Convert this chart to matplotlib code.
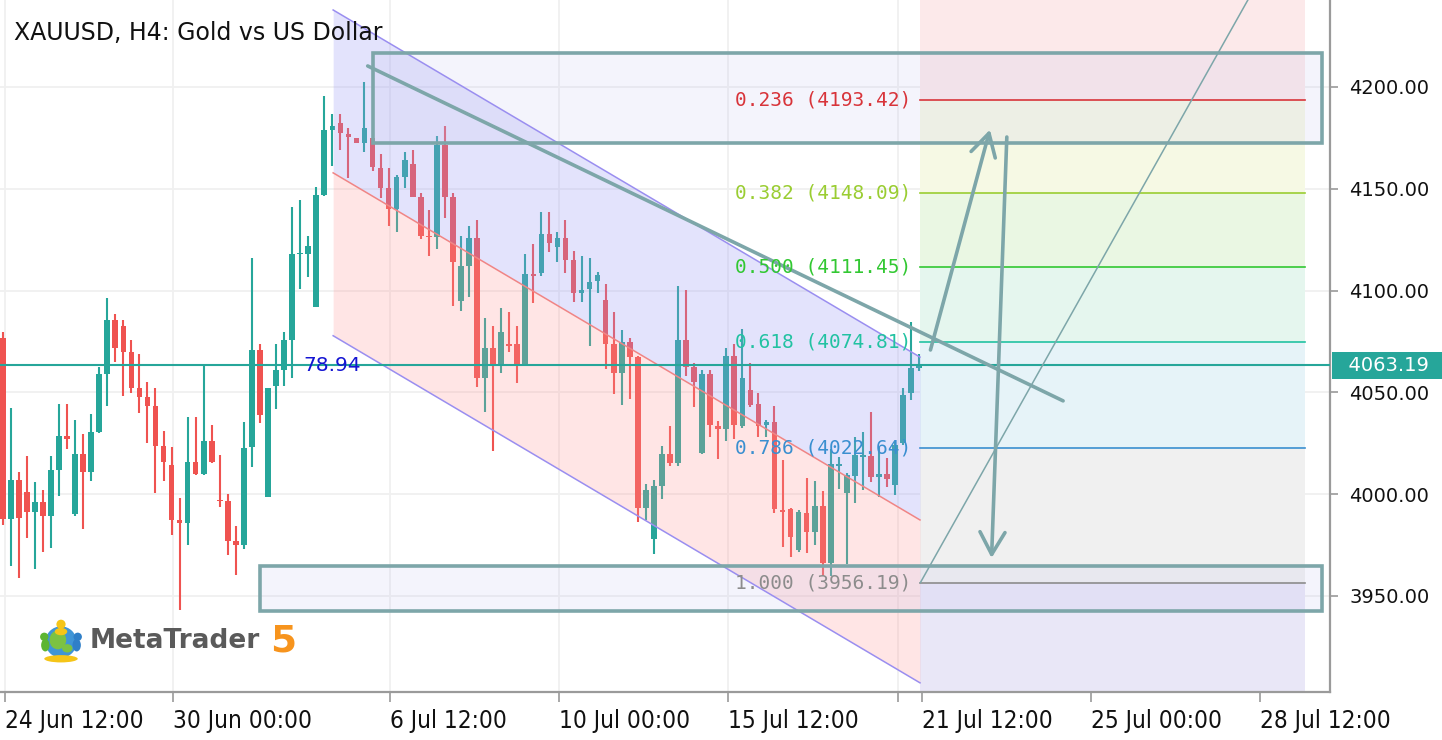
import numpy as np
import matplotlib
matplotlib.use("Agg")
import matplotlib.pyplot as plt
import matplotlib.transforms as mtransforms
from matplotlib.patches import Rectangle, Polygon, FancyArrowPatch, Circle, Ellipse

title = "XAUUSD, H4: Gold vs US Dollar"

opens = [4076.6, 3987.7, 4007.0, 4001.2, 3991.4, 3996.3, 3989.4, 4011.9, 4028.6, 3990.1,
         4019.7, 4011.0, 4030.5, 4059.0, 4085.6, 4082.6, 4070.0, 4052.3, 4047.6, 4043.3,
         4023.8, 4014.2, 3987.5, 3985.8, 4016.0, 4009.7, 4025.9, 3997.2, 3996.4, 3977.0,
         3974.8, 4023.0, 4070.8, 3998.6, 4053.1, 4061.1, 4075.7, 4117.7, 4118.1, 4091.8,
         4147.0, 4178.9, 4182.2, 4176.9, 4174.8, 4172.3, 4174.8, 4160.1, 4150.5, 4139.9,
         4155.6, 4162.2, 4146.1, 4127.0, 4126.5, 4171.5, 4145.8, 4095.0, 4112.1, 4125.7,
         4057.2, 4071.6, 4063.9, 4073.7, 4073.7, 4063.9, 4108.2, 4108.5, 4127.8, 4121.3,
         4125.7, 4115.0, 4098.7, 4100.6, 4104.9, 4095.4, 4073.7, 4059.4, 4074.9, 4067.2,
         3993.3, 3977.8, 4004.0, 4019.7, 4015.5, 4075.7, 4062.3, 4020.0, 4059.0, 4033.5,
         4031.9, 4067.9, 4033.5, 4051.2, 4044.3, 4034.0, 4035.6, 3992.2, 3992.6, 3972.6,
         3990.9, 3981.6, 3994.2, 3966.1, 4013.8, 4000.4, 4008.9, 4018.4, 4018.8, 4008.6,
         4009.9, 4004.5, 4025.0, 4049.5, 4061.8]
highs = [4079.8, 4042.5, 4010.7, 4018.7, 4006.0, 4002.0, 4018.7, 4044.3, 4044.3, 4036.4,
         4029.6, 4039.2, 4062.3, 4096.2, 4088.5, 4085.6, 4075.7, 4068.9, 4055.1, 4052.3,
         4031.2, 4023.0, 3998.3, 4037.9, 4037.9, 4064.1, 4033.8, 4019.0, 4000.2, 3984.5,
         4035.6, 4116.1, 4073.8, 4052.2, 4073.8, 4079.6, 4140.8, 4144.6, 4126.8, 4151.0,
         4195.6, 4186.7, 4186.7, 4179.7, 4174.8, 4202.5, 4174.8, 4166.9, 4160.1, 4156.8,
         4167.9, 4169.1, 4148.1, 4139.6, 4175.9, 4180.8, 4148.1, 4126.8, 4131.7, 4134.7,
         4086.4, 4082.6, 4091.3, 4089.3, 4082.6, 4118.0, 4122.9, 4138.5, 4138.5, 4128.7,
         4134.7, 4119.6, 4116.9, 4115.9, 4109.3, 4103.1, 4089.3, 4080.7, 4076.6, 4067.9,
         4004.8, 4007.0, 4023.7, 4033.5, 4102.2, 4100.3, 4064.6, 4061.0, 4061.0, 4036.1,
         4071.7, 4073.8, 4081.0, 4064.6, 4049.8, 4036.4, 4043.3, 4016.8, 3993.1, 3992.2,
         4007.8, 4006.6, 4001.7, 4022.0, 4018.4, 4010.2, 4028.2, 4030.7, 4040.5, 4023.3,
         4017.6, 4025.8, 4052.0, 4084.7, 4069.0]
lows = [3985.0, 3964.9, 3959.0, 3978.6, 3963.1, 3971.8, 3973.7, 3999.3, 4022.0, 3989.3,
        3982.7, 4006.2, 4029.9, 4043.5, 4065.1, 4048.4, 4049.5, 4039.7, 4025.0, 4000.4,
        4006.3, 3979.8, 3943.0, 3974.8, 4009.4, 4009.4, 4015.2, 3993.6, 3969.9, 3960.1,
        3972.8, 4013.3, 4034.8, 3998.6, 4041.7, 4053.3, 4057.2, 4100.6, 4106.4, 4091.8,
        4146.5, 4161.2, 4169.1, 4155.5, 4172.3, 4168.2, 4158.7, 4145.3, 4131.9, 4128.9,
        4150.2, 4145.8, 4125.2, 4117.1, 4120.3, 4135.8, 4092.6, 4090.0, 4096.7, 4052.5,
        4040.5, 4021.2, 4059.4, 4070.0, 4054.5, 4063.9, 4093.8, 4107.3, 4119.1, 4114.2,
        4108.5, 4094.6, 4094.6, 4072.9, 4098.7, 4061.3, 4049.4, 4043.8, 4046.6, 3986.5,
        3987.3, 3970.6, 3997.5, 4013.9, 4013.9, 4058.0, 4042.7, 4019.7, 4028.2, 4017.1,
        4026.3, 4026.9, 4032.4, 4043.0, 4028.2, 4028.2, 3990.6, 3974.2, 3969.3, 3971.7,
        3971.0, 3975.0, 3960.0, 3960.0, 4002.4, 3965.7, 3995.5, 4002.0, 4006.1, 3998.8,
        4003.4, 3999.6, 4024.2, 4046.3, 4060.5]
closes = [3987.7, 4007.0, 3988.4, 3991.4, 3996.3, 3989.4, 4011.9, 4028.6, 4027.0, 4019.7,
          4011.0, 4030.5, 4059.0, 4085.6, 4071.9, 4070.0, 4052.3, 4047.6, 4043.3, 4023.8,
          4016.0, 3987.5, 3985.8, 4016.0, 4009.7, 4025.9, 4015.7, 3996.4, 3977.0, 3974.8,
          4022.6, 4070.8, 4038.7, 4052.2, 4061.1, 4075.7, 4117.7, 4118.0, 4121.7, 4147.0,
          4178.9, 4180.8, 4177.3, 4175.3, 4172.3, 4179.7, 4160.6, 4150.5, 4139.9, 4155.6,
          4164.1, 4146.1, 4126.8, 4126.2, 4171.5, 4145.8, 4114.2, 4112.1, 4125.7, 4057.2,
          4071.6, 4063.9, 4079.5, 4072.8, 4063.9, 4108.2, 4107.2, 4127.8, 4123.2, 4125.7,
          4115.0, 4098.7, 4100.3, 4104.2, 4107.7, 4073.7, 4059.4, 4074.9, 4067.2, 3993.3,
          4002.0, 4004.0, 4019.7, 4015.5, 4075.7, 4062.3, 4055.2, 4059.0, 4034.0, 4031.9,
          4067.9, 4034.0, 4056.9, 4043.8, 4033.5, 4035.6, 3992.6, 3991.4, 3979.1, 3991.4,
          3981.6, 3994.2, 3966.1, 4014.8, 4014.8, 4009.4, 4019.2, 4019.2, 4008.6, 4009.9,
          4007.3, 4024.2, 4048.7, 4061.8, 4063.19]

last_price = 4063.19
indicator_text = "78.94"
indicator_x = 37.35

xtick_pos = [0.29, 21.18, 48.17, 69.19, 90.21, 114.33, 135.35, 156.37]
xtick_labels = ["24 Jun 12:00", "30 Jun 00:00", "6 Jul 12:00", "10 Jul 00:00",
                "15 Jul 12:00", "21 Jul 12:00", "25 Jul 00:00", "28 Jul 12:00"]
xgrid_pos = [0.29, 21.18, 48.17, 69.19, 90.21, 111.35]
ytick_vals = [3950, 4000, 4050, 4100, 4150, 4200]

fib_ratios = [0.236, 0.382, 0.5, 0.618, 0.786, 1.0]
fib_prices = [4193.42, 4148.09, 4111.45, 4074.81, 4022.64, 3956.19]
fib_zero = 4266.7
fib_colors = ["#d8343a", "#9acd32", "#32c832", "#22c2a2", "#3a8fd0", "#8c8c8c"]
fib_band_colors = ["#fce9ea", "#f6f9e4", "#eaf7e3", "#e5f6ee", "#e6f3f8", "#f0f0f0", "#e9e7f7"]
fib_x = [114.1, 162.0]

channel_x = [41.1, 114.1]
channel_mid = [4157.8, 3987.3]
channel_half = 80.0

trend_x = [45.4, 131.9]
trend_y = [4210.3, 4045.8]

rects = [(46.1, 164.1, 4172.5, 4216.7), (32.0, 164.1, 3942.6, 3964.7)]
arrows = [((115.4, 4070.8), (122.8, 4179.0)), ((124.9, 4175.4), (123.0, 3968.6))]
fib_diag_x = [114.1, 158.3]
fib_diag_y = [3956.19, 4266.7]

xlim = (-0.34, 165.1)
ylim = (3902.8, 4242.7)

GREEN = "#26a69a"
RED = "#ef5350"
TOOL = "#7da6a9"

W, H = 1442, 740
fig = plt.figure(figsize=(W / 100, H / 100), dpi=100)
fig.patch.set_facecolor("white")
ax = fig.add_axes([0, 48 / H, 1330 / W, 692 / H])
ax.set_xlim(*xlim)
ax.set_ylim(*ylim)
ax.set_facecolor("white")

# grid
for v in ytick_vals:
    ax.axhline(v, color="#f0f0f0", lw=1.3, zorder=0.5)
for v in xgrid_pos:
    ax.axvline(v, color="#f0f0f0", lw=1.3, zorder=0.5)

# fib bands
bounds = [fib_zero] + fib_prices + [ylim[0] - 50]
for k, col in enumerate(fib_band_colors):
    ax.fill_between(fib_x, bounds[k + 1], bounds[k], color=col, lw=0, zorder=1)

# candles
o = np.array(opens); h = np.array(highs); l = np.array(lows); c = np.array(closes)
idx = np.arange(len(o))
cols = np.where(c >= o, GREEN, RED)
ax.vlines(idx, l, h, colors=cols, lw=1.5, zorder=3)
ax.bar(idx, np.maximum(np.abs(c - o), 0.8), bottom=np.minimum(o, c), width=0.7,
       color=cols, lw=0, zorder=3.1)

# regression channel (semi transparent over candles)
cx = np.array(channel_x)
cm = np.array(channel_mid)
ax.fill_between(cx, cm, cm + channel_half, color=(0.6, 0.6, 0.96), alpha=0.27, lw=0, zorder=3.3)
ax.fill_between(cx, cm - channel_half, cm, color=(1.0, 0.6, 0.6), alpha=0.25, lw=0, zorder=3.3)
ax.plot(cx, cm + channel_half, color="#9a8ef0", lw=1.1, zorder=3.5)
ax.plot(cx, cm - channel_half, color="#9a8ef0", lw=1.1, zorder=3.5)
ax.plot(cx, cm, color="#f08585", lw=1.1, zorder=3.5)

# fib lines and labels
for r, p, col in zip(fib_ratios, fib_prices, fib_colors):
    ax.plot(fib_x, [p, p], color=col, lw=1.2, zorder=3.6)
    ax.annotate(f"{r:.3f} ({p:.2f})", xy=(fib_x[0], p), xytext=(-6, 0),
                textcoords="offset points", ha="right", va="center",
                color=col, fontsize=14, family="DejaVu Sans Mono", zorder=6)
ax.plot(fib_diag_x, fib_diag_y, color=TOOL, lw=1.1, zorder=4.5, solid_capstyle="butt")

# rectangles
for x0, x1, y0, y1 in rects:
    ax.add_patch(Rectangle((x0, y0), x1 - x0, y1 - y0, facecolor=(0.75, 0.75, 0.93, 0.16),
                           edgecolor="none", zorder=3.4))
    ax.add_patch(Rectangle((x0, y0), x1 - x0, y1 - y0, facecolor="none",
                           edgecolor=TOOL, lw=2.6, zorder=5))

# price line
ax.axhline(last_price, color=GREEN, lw=1.5, zorder=4)

# trendline
ax.plot(trend_x, trend_y, color=TOOL, lw=2.6, zorder=5, solid_capstyle="round")

# arrows
for a, b in arrows:
    ax.add_patch(FancyArrowPatch(a, b, arrowstyle="->,head_length=0.8,head_width=0.45",
                                 mutation_scale=20, color=TOOL, lw=2.6, shrinkA=0, shrinkB=0,
                                 zorder=5))

# indicator value
ax.text(indicator_x, last_price, indicator_text, color="#1414d2", fontsize=14.5,
        ha="left", va="center", zorder=6)

# axes styling
for s in ["left", "top"]:
    ax.spines[s].set_visible(False)
for s in ["right", "bottom"]:
    ax.spines[s].set_color("#9a9a9a")
    ax.spines[s].set_linewidth(1.6)
ax.yaxis.tick_right()
ax.set_yticks(ytick_vals)
ax.set_yticklabels([f"{v:.2f}" for v in ytick_vals])
ax.tick_params(axis="y", length=6, width=1.2, color="#9a9a9a", pad=8, labelsize=14,
               labelcolor="#111111")
ax.set_xticks(xtick_pos)
ax.set_xticklabels(xtick_labels, fontfamily="DejaVu Sans", fontstretch="condensed",
                   fontsize=17.5, ha="left", color="#111111")
ax.set_xticks([111.35], minor=True)
ax.tick_params(axis="x", which="both", length=7, width=1.2, color="#9a9a9a", pad=5)

# last price box
trans = mtransforms.blended_transform_factory(ax.transAxes, ax.transData)
ax.text(1.0045, last_price, "  4063.19  ", transform=trans, ha="left", va="center",
        color="white", fontsize=14, clip_on=False, zorder=10,
        bbox=dict(boxstyle="square,pad=0.2", fc=GREEN, ec="none"))

# title
fig.text(14 / W, 1 - 33 / H, title, fontsize=17, color="#111111", va="center", ha="left")

# MetaTrader logo
fig.text(90 / W, 1 - 641 / H, "MetaTrader", fontsize=19, fontweight="bold",
         color="#5a5a5a", va="center", ha="left")
fig.text(270 / W, 1 - 641 / H, "5", fontsize=27, fontweight="bold",
         color="#f7941d", va="center", ha="left")
lax = fig.add_axes([38 / W, (H - 664) / H, 46 / W, 46 / H])
lax.set_xlim(-1.1, 1.1); lax.set_ylim(-1.1, 1.1); lax.set_aspect("equal"); lax.axis("off")
lax.add_patch(Circle((0, -0.05), 0.75, fc="#3f95d6", ec="none"))
lax.add_patch(Ellipse((-0.15, 0.05), 0.8, 0.9, fc="#7cc242", ec="none"))
lax.add_patch(Ellipse((0.3, -0.35), 0.5, 0.4, fc="#7cc242", ec="none"))
lax.add_patch(Circle((0, 0.8), 0.22, fc="#f5c518", ec="none"))
lax.add_patch(Ellipse((0, 0.45), 0.6, 0.35, fc="#f5c518", ec="none"))
lax.add_patch(Circle((-0.8, 0.2), 0.2, fc="#5cb531", ec="none"))
lax.add_patch(Ellipse((-0.75, -0.2), 0.4, 0.6, fc="#5cb531", ec="none"))
lax.add_patch(Circle((0.8, 0.2), 0.2, fc="#2f7fc8", ec="none"))
lax.add_patch(Ellipse((0.75, -0.2), 0.4, 0.6, fc="#2f7fc8", ec="none"))
lax.add_patch(Ellipse((0, -0.85), 1.6, 0.35, fc="#f5c518", ec="none"))

fig.savefig("out.png", dpi=100, facecolor="white")
